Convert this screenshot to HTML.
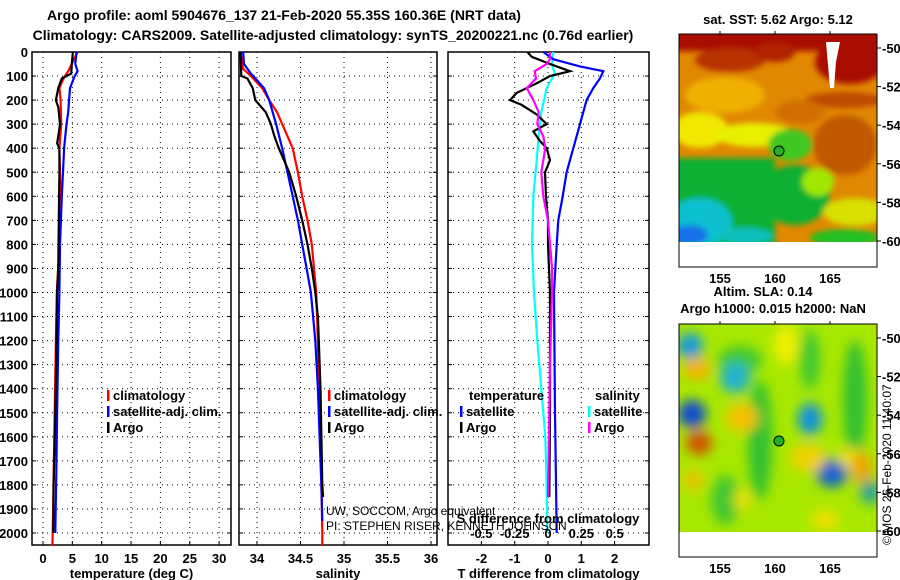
<!DOCTYPE html>
<html><head><meta charset="utf-8">
<style>
html,body{margin:0;padding:0;background:#fff;}
svg{display:block;font-family:"Liberation Sans",Arial,sans-serif;}
.b{font-weight:bold;font-size:13px;}
.t{font-weight:bold;font-size:14px;}
</style></head>
<body>
<svg id="chart" width="900" height="580" viewBox="0 0 900 580">
<defs>
<filter id="blur1" x="-10%" y="-10%" width="120%" height="120%"><feGaussianBlur stdDeviation="3"/></filter>
<filter id="blur2" x="-10%" y="-10%" width="120%" height="120%"><feGaussianBlur stdDeviation="6"/></filter>
<clipPath id="clipM1"><rect x="679" y="34" width="198" height="208"/></clipPath>
<clipPath id="clipM2"><rect x="679" y="324" width="198" height="208"/></clipPath>
</defs>
<text class="t" x="284" y="20" text-anchor="middle">Argo profile: aoml 5904676_137 21-Feb-2020 55.35S 160.36E (NRT data)</text>
<text class="t" x="333" y="40" text-anchor="middle">Climatology: CARS2009. Satellite-adjusted climatology: synTS_20200221.nc (0.76d earlier)</text>
<g id="g1"></g>
<g id="g2"></g>
<g id="g3"></g>

<!-- SST map -->
<g>
<text class="b" x="778" y="24" text-anchor="middle">sat. SST: 5.62 Argo: 5.12</text>
<g clip-path="url(#clipM1)">
<rect x="679" y="34" width="198" height="208" fill="#e08800"/>
<g filter="url(#blur1)">
<rect x="670" y="25" width="215" height="26" fill="#a80800"/>
<ellipse cx="730" cy="60" rx="35" ry="12" fill="#b83000"/>
<ellipse cx="775" cy="52" rx="20" ry="10" fill="#b02000"/>
<ellipse cx="850" cy="62" rx="35" ry="22" fill="#a81000"/>
<ellipse cx="845" cy="100" rx="40" ry="8" fill="#c04800"/>
<ellipse cx="725" cy="95" rx="40" ry="18" fill="#f0b000"/>
<ellipse cx="700" cy="130" rx="28" ry="18" fill="#f0e800"/>
<ellipse cx="755" cy="135" rx="40" ry="12" fill="#e8f000"/>
<ellipse cx="845" cy="145" rx="32" ry="30" fill="#c05800"/>
<ellipse cx="800" cy="112" rx="25" ry="12" fill="#d07000"/>
<ellipse cx="790" cy="145" rx="22" ry="16" fill="#40c820"/>
<rect x="670" y="158" width="105" height="90" fill="#08b030"/>
<ellipse cx="795" cy="195" rx="35" ry="30" fill="#08b030"/>
<ellipse cx="818" cy="182" rx="16" ry="14" fill="#a0e800"/>
<ellipse cx="855" cy="212" rx="32" ry="14" fill="#d8e000"/>
<ellipse cx="845" cy="238" rx="35" ry="9" fill="#20c020"/>
<ellipse cx="700" cy="222" rx="32" ry="24" fill="#10c0d0"/>
<ellipse cx="690" cy="235" rx="18" ry="10" fill="#1870e8"/>
<ellipse cx="745" cy="236" rx="28" ry="8" fill="#10c0c0"/>
</g>
<polygon points="826,42 840,42 836,62 834,88 830,88" fill="#ffffff"/>
</g>
<rect x="679" y="242" width="198" height="25" fill="#fff"/>
<rect x="679" y="34" width="198" height="233" fill="none" stroke="#000" stroke-width="1"/>
<circle cx="779" cy="151" r="5" fill="#20b020" stroke="#000" stroke-width="1"/>
</g>

<!-- SLA map -->
<g>
<text class="b" x="763" y="296" text-anchor="middle">Altim. SLA: 0.14</text>
<text class="b" x="773" y="313" text-anchor="middle">Argo h1000: 0.015 h2000: NaN</text>
<g clip-path="url(#clipM2)">
<rect x="679" y="324" width="198" height="208" fill="#a8e800"/>
<g filter="url(#blur2)">
<ellipse cx="760" cy="440" rx="12" ry="60" fill="#30c030"/>
<ellipse cx="740" cy="360" rx="22" ry="14" fill="#40c830"/>
<ellipse cx="855" cy="400" rx="12" ry="60" fill="#30c030"/>
<ellipse cx="810" cy="360" rx="10" ry="30" fill="#40c830"/>
<ellipse cx="725" cy="500" rx="14" ry="25" fill="#40c830"/>
<ellipse cx="690" cy="346" rx="13" ry="13" fill="#1898e0"/>
<ellipse cx="697" cy="369" rx="13" ry="11" fill="#f8b000"/>
<ellipse cx="735" cy="378" rx="15" ry="15" fill="#20b0d0"/>
<ellipse cx="692" cy="414" rx="14" ry="14" fill="#0848d0"/>
<ellipse cx="699" cy="443" rx="13" ry="12" fill="#d05000"/>
<ellipse cx="742" cy="418" rx="16" ry="14" fill="#f8c000"/>
<ellipse cx="786" cy="345" rx="12" ry="20" fill="#f0f000"/>
<ellipse cx="810" cy="419" rx="12" ry="16" fill="#1090e0"/>
<ellipse cx="832" cy="473" rx="16" ry="14" fill="#0860d0"/>
<ellipse cx="808" cy="458" rx="18" ry="14" fill="#f0d000"/>
<ellipse cx="850" cy="458" rx="12" ry="10" fill="#f0e000"/>
<ellipse cx="862" cy="468" rx="10" ry="16" fill="#f0a000"/>
<ellipse cx="870" cy="492" rx="10" ry="12" fill="#20a0a0"/>
<ellipse cx="693" cy="480" rx="10" ry="10" fill="#f0c000"/>
<ellipse cx="742" cy="500" rx="8" ry="10" fill="#f0e000"/>
<ellipse cx="825" cy="520" rx="14" ry="10" fill="#f0e000"/>
</g>
</g>
<rect x="679" y="532" width="198" height="25" fill="#fff"/>
<rect x="679" y="324" width="198" height="233" fill="none" stroke="#000" stroke-width="1"/>
<circle cx="779" cy="441" r="5" fill="#20b020" stroke="#000" stroke-width="1"/>
</g>
<text x="891" y="545" font-size="12" transform="rotate(-90 891 545)">©IMOS 26-Feb-2020 11:40:07</text>
<text x="326" y="515" font-size="12">UW, SOCCOM, Argo equivalent</text>
<text x="326" y="530" font-size="12">PI: STEPHEN RISER, KENNETH JOHNSON</text>
</svg>
<script>
// ---------- data ----------
const depthTicks = [0,100,200,300,400,500,600,700,800,900,1000,1100,1200,1300,1400,1500,1600,1700,1800,1900,2000];
const tempTicks = [0,5,10,15,20,25,30];
const salTicks = [34,34.5,35,35.5,36];
const tdiffTicks = [-2,-1,0,1,2];
const sdiffTicks = [-0.5,-0.25,0,0.25,0.5];
const sdiffTickLabels = ["-0.5","-0.25","0","0.25","0.5"];

const argoTDepth = [0,50,90,110,130,150,200,230,300,350,380,400,500,700,900,1000,1200,1500,1700,1800,2000];
const argoT      = [5.1,4.9,4.8,3.2,2.9,2.6,2.2,2.6,2.9,2.6,2.4,2.8,2.8,2.7,2.6,2.4,2.3,2.1,1.9,1.8,1.75];
const climTDepth = [0,80,110,150,200,300,400,500,600,800,1000,1200,1500,2000,2054];
const climT      = [5.9,4.3,3.5,2.8,3.0,3.1,2.8,2.9,3.0,2.8,2.35,2.2,2.0,1.65,1.6];
const satTDepth  = [0,50,80,100,150,250,300,400,500,600,800,1000,1200,1500,1700,2000];
const satT       = [5.7,5.5,5.9,5.4,4.6,4.3,4.0,3.6,3.4,3.2,2.9,2.8,2.6,2.4,2.3,2.1];

const argoSDepth = [0,100,110,150,200,250,300,350,400,450,500,600,700,800,900,1000,1100,1200,1400,1600,1800,1850];
const argoS      = [33.81,33.82,33.89,33.95,33.98,34.1,34.16,34.2,34.25,34.31,34.37,34.45,34.52,34.58,34.63,34.67,34.7,34.71,34.73,34.74,34.75,34.76];
const climSDepth = [0,70,100,150,200,250,300,350,400,500,600,700,800,1000,1200,1500,1800,2000,2054];
const climS      = [33.81,33.84,33.93,34.06,34.14,34.23,34.29,34.35,34.41,34.47,34.52,34.58,34.63,34.68,34.7,34.72,34.74,34.75,34.75];
const satSDepth  = [0,50,90,150,200,300,400,500,600,700,800,900,1000,1200,1400,1600,1800,1950];
const satS       = [33.84,33.85,33.93,34.08,34.14,34.22,34.29,34.35,34.41,34.47,34.52,34.57,34.62,34.67,34.7,34.72,34.74,34.75];

const satTdDepth  = [0,30,60,80,110,150,200,250,300,400,500,600,700,800,1000,1500,2000];
const satTd       = [-0.14,0.16,0.96,1.66,1.56,1.36,1.16,1.06,0.96,0.76,0.56,0.44,0.31,0.26,0.18,0.21,0.26];
const argoTdDepth = [0,20,50,80,100,130,170,200,220,260,300,330,370,400,450,500,600,700,800,1000,1500,1850];
const argoTd      = [-0.62,-0.49,0.06,0.66,0.06,-0.34,-0.94,-1.14,-0.79,-0.34,-0.04,-0.44,-0.24,-0.04,0.06,-0.09,-0.06,0.0,0.0,0.06,0.06,0.04];
const satSdDepth  = [0,50,90,150,250,350,450,600,800,1000,1200,1400,1600,1800,2000];
const satSd       = [0.04,0.03,0.05,-0.01,-0.05,-0.07,-0.085,-0.11,-0.12,-0.105,-0.08,-0.05,-0.02,-0.01,-0.005];
const argoSdDepth = [0,30,50,80,110,150,200,250,300,350,400,500,600,700,800,900,1000,1300,1500,1850];
const argoSd      = [0.015,0.015,-0.01,-0.1,-0.09,-0.16,-0.11,-0.07,-0.08,-0.035,-0.02,-0.05,-0.035,0.0,0.015,0.03,0.03,0.015,0.01,0.0];

const latLabels = [-50,-52,-54,-56,-58,-60];
const lonLabels = [155,160,165];

// ---------- axes ----------
const NS = "http://www.w3.org/2000/svg";
const yD = d => 52 + d * 0.2405;
const x1 = t => 43 + t * 5.87;
const x2 = s => 257 + (s - 34) * 87;
const x3T = t => 548 + t * 33.3;
const x3S = s => 548 + s * 133.3;
const latY1 = l => 48 + (-50 - l) * 19.3;
const latY2 = l => 338 + (-50 - l) * 19.3;
const lonX = l => 720 + (l - 155) * 11;

function mk(tag, attrs, parent){
  const e = document.createElementNS(NS, tag);
  for (const k in attrs) e.setAttribute(k, attrs[k]);
  parent.appendChild(e);
  return e;
}
function txt(str, x, y, anchor, cls, parent){
  const e = mk('text', {x:x, y:y, 'text-anchor':anchor, class:cls}, parent);
  e.textContent = str;
  return e;
}
const svg = document.getElementById('chart');

function panel(g, left, right, xs, xTicks, xLabels, xTitle, yLabels){
  const top = 52, bot = 545;
  for (const d of depthTicks){
    const gl = mk('line', {x1:left, x2:right, y1:yD(d), y2:yD(d), stroke:'#000', 'stroke-width':1, 'stroke-dasharray':'1,4'}, g);
    
    
    mk('line', {x1:left, x2:left+4, y1:yD(d), y2:yD(d), stroke:'#000'}, g);
    mk('line', {x1:right-4, x2:right, y1:yD(d), y2:yD(d), stroke:'#000'}, g);
    if (yLabels){
      const t = txt(String(d), left-4, yD(d)+5, 'end', 'b', g);
      
      
    }
  }
  xTicks.forEach((v,i)=>{
    const gl = mk('line', {x1:xs(v), x2:xs(v), y1:top, y2:bot, stroke:'#000', 'stroke-width':1, 'stroke-dasharray':'1,4'}, g);
    
    
    mk('line', {x1:xs(v), x2:xs(v), y1:bot-4, y2:bot, stroke:'#000'}, g);
    const t = txt(xLabels[i], xs(v), 563, 'middle', 'b', g);
    
    
  });
  const r = mk('rect', {x:left, y:top, width:right-left, height:bot-top, fill:'none', stroke:'#000', 'stroke-width':1.5}, g);
  
  
  const tt = txt(xTitle, (left+right)/2, 578, 'middle', 'b', g);
  
  
}
function series(g, depths, vals, xs, color, name){
  const pts = depths.map((d,i)=> xs(vals[i]).toFixed(1)+','+yD(d).toFixed(1)).join(' ');
  const p = mk('polyline', {points:pts, fill:'none', stroke:color, 'stroke-width':2.2, 'stroke-linejoin':'miter'}, g);
  
  
}
function legend(g, x, y, color, label){
  const l = mk('rect', {x:x, y:y-10, width:2.5, height:11, fill:color}, g);
  
  
  const t = txt(label, x+6, y, 'start', 'b', g);
  
  
}

const g1 = document.getElementById('g1');
panel(g1, 32, 231, x1, tempTicks, tempTicks.map(String), 'temperature (deg C)', true);
series(g1, climTDepth, climT, x1, '#ff0000', 'climatology-temperature-line');
series(g1, satTDepth, satT, x1, '#0000ff', 'satellite-temperature-line');
series(g1, argoTDepth, argoT, x1, '#000000', 'argo-temperature-line');
legend(g1, 107, 400, '#ff0000', 'climatology');
legend(g1, 107, 416, '#0000ff', 'satellite-adj. clim.');
legend(g1, 107, 432, '#000000', 'Argo');

const g2 = document.getElementById('g2');
panel(g2, 239, 437, x2, salTicks, salTicks.map(String), 'salinity', false);
series(g2, climSDepth, climS, x2, '#ff0000', 'climatology-salinity-line');
series(g2, satSDepth, satS, x2, '#0000ff', 'satellite-salinity-line');
series(g2, argoSDepth, argoS, x2, '#000000', 'argo-salinity-line');
legend(g2, 328, 400, '#ff0000', 'climatology');
legend(g2, 328, 416, '#0000ff', 'satellite-adj. clim.');
legend(g2, 328, 432, '#000000', 'Argo');

const g3 = document.getElementById('g3');
panel(g3, 448, 649, x3T, tdiffTicks, tdiffTicks.map(String), 'T difference from climatology', false);
series(g3, satSdDepth, satSd, x3S, '#00ffff', 'satellite-salinity-diff-line');
series(g3, satTdDepth, satTd, x3T, '#0000ff', 'satellite-temperature-diff-line');
series(g3, argoTdDepth, argoTd, x3T, '#000000', 'argo-temperature-diff-line');
series(g3, argoSdDepth, argoSd, x3S, '#ff00ff', 'argo-salinity-diff-line');
sdiffTicks.forEach((v,i)=>{
  const t = txt(sdiffTickLabels[i], x3S(v), 538, 'middle', 'b', g3);
  
  
});
const sdt = txt('S difference from climatology', 548, 523, 'middle', 'b', g3);


const lt1 = txt('temperature', 469, 400, 'start', 'b', g3);


const lt2 = txt('salinity', 595, 400, 'start', 'b', g3);


legend(g3, 460, 416, '#0000ff', 'satellite');
legend(g3, 460, 432, '#000000', 'Argo');
legend(g3, 588, 416, '#00ffff', 'satellite');
legend(g3, 588, 432, '#ff00ff', 'Argo');

// map ticks and labels
[[latY1, 34], [latY2, 324]].forEach(([fy, top])=>{
  latLabels.forEach(l=>{
    mk('line', {x1:877, x2:881, y1:fy(l), y2:fy(l), stroke:'#000'}, svg);
    const t = txt(String(l), 882, fy(l)+5, 'start', 'b', svg);
    
    
  });
  lonLabels.forEach(l=>{
    mk('line', {x1:lonX(l), x2:lonX(l), y1:top-3, y2:top, stroke:'#000'}, svg);
    const t = txt(String(l), lonX(l), top+249, 'middle', 'b', svg);
    
    
  });
});
</script>
</body></html>
